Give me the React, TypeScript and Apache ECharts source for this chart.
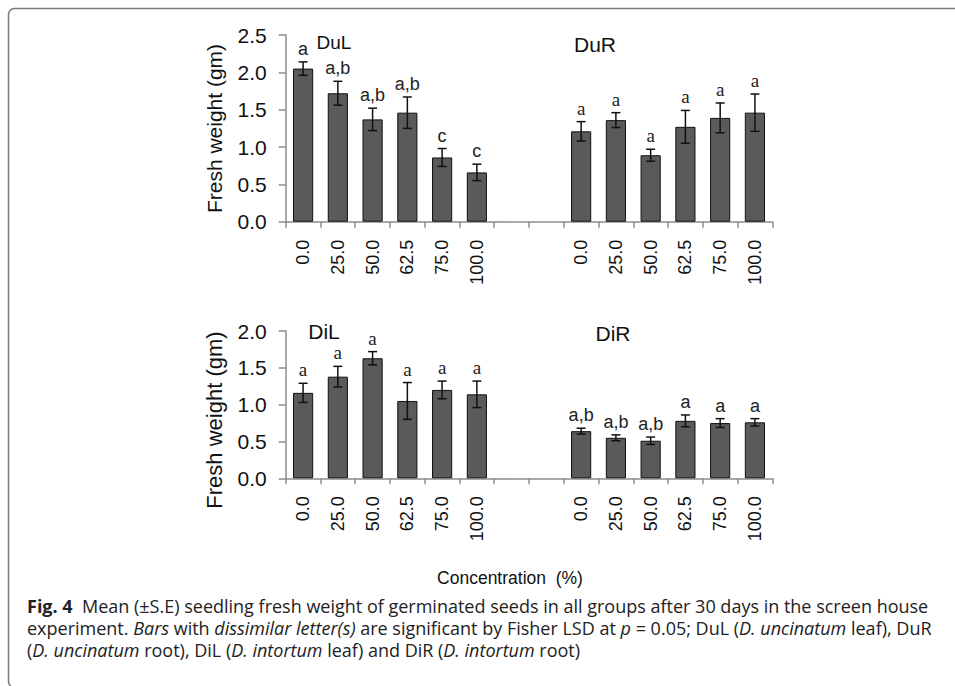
import React, { useEffect, useRef } from "react";
import * as echarts from "echarts";

// ---- data ----
const concLabels = ["0.0", "25.0", "50.0", "62.5", "75.0", "100.0"];

const dulMean = [2.05, 1.72, 1.37, 1.46, 0.86, 0.66];
const dulErr = [0.09, 0.16, 0.15, 0.21, 0.12, 0.11];
const dulLetters = ["a", "a,b", "a,b", "a,b", "c", "c"];

const durMean = [1.21, 1.36, 0.89, 1.27, 1.39, 1.46];
const durErr = [0.13, 0.1, 0.08, 0.22, 0.2, 0.25];
const durLetters = ["a", "a", "a", "a", "a", "a"];

const dilMean = [1.16, 1.38, 1.63, 1.05, 1.2, 1.14];
const dilErr = [0.13, 0.14, 0.09, 0.25, 0.12, 0.18];
const dilLetters = ["a", "a", "a", "a", "a", "a"];

const dirMean = [0.64, 0.55, 0.51, 0.78, 0.75, 0.76];
const dirErr = [0.04, 0.04, 0.05, 0.08, 0.06, 0.05];
const dirLetters = ["a,b", "a,b", "a,b", "a", "a", "a"];

const yTicksTop = { min: 0, max: 2.5, interval: 0.5 };
const yTicksBottom = { min: 0, max: 2.0, interval: 0.5 };

const panelTitles = ["DuL", "DuR", "DiL", "DiR"];
const yAxisTitle = "Fresh weight (gm)";
const xAxisTitle = "Concentration  (%)";

// two empty categories separate the leaf and root groups
const xLabels = [...concLabels, "", "", ...concLabels];
const xKeys = xLabels.map((_, i) => String(i));
const rightOffset = concLabels.length + 2;

const SANS = '"Liberation Sans", Arial, sans-serif';
const SERIF = '"Liberation Serif", "Times New Roman", serif';

function barData(left: number[], right: number[]) {
  return [...left, null, null, ...right];
}

function errPoints(leftM: number[], leftE: number[], rightM: number[], rightE: number[]) {
  const pts: number[][] = [];
  leftM.forEach((m, i) => pts.push([i, m, leftE[i]]));
  rightM.forEach((m, i) => pts.push([i + rightOffset, m, rightE[i]]));
  return pts;
}

function errSeries(
  gridIdx: number,
  pts: number[][],
  letters: string[],
  fonts: string[]
) {
  return {
    type: "custom",
    xAxisIndex: gridIdx,
    yAxisIndex: gridIdx,
    z: 5,
    encode: { x: 0, y: 1 },
    data: pts,
    renderItem: (params: any, api: any) => {
      const i = api.value(0);
      const m = api.value(1);
      const e = api.value(2);
      const top = api.coord([i, m + e]);
      const bot = api.coord([i, m - e]);
      const cx = top[0];
      const cap = 4.5;
      const ls = { stroke: "#111", lineWidth: 1.5 };
      return {
        type: "group",
        children: [
          { type: "line", shape: { x1: cx, y1: top[1], x2: cx, y2: bot[1] }, style: ls },
          { type: "line", shape: { x1: cx - cap, y1: top[1], x2: cx + cap, y2: top[1] }, style: ls },
          { type: "line", shape: { x1: cx - cap, y1: bot[1], x2: cx + cap, y2: bot[1] }, style: ls },
          {
            type: "text",
            x: cx,
            y: top[1] - 4,
            style: {
              text: letters[params.dataIndex],
              font: fonts[params.dataIndex],
              fill: "#222",
              align: "center",
              verticalAlign: "bottom",
            },
          },
        ],
      };
    },
  };
}

const axisColor = "#8c8c8c";

function xAxisFor(gridIndex: number) {
  return {
    type: "category",
    gridIndex,
    data: xKeys,
    boundaryGap: true,
    axisLine: { lineStyle: { color: axisColor, width: 1.5 } },
    axisTick: { show: true, interval: 0, length: 6, lineStyle: { color: axisColor, width: 1.5 } },
    axisLabel: {
      interval: 0,
      rotate: 90,
      margin: 18,
      fontSize: 18,
      fontFamily: SANS,
      color: "#111",
      formatter: (_v: string, i: number) => xLabels[i],
    },
    splitLine: { show: false },
  };
}

function yAxisFor(gridIndex: number, t: { min: number; max: number; interval: number }) {
  return {
    type: "value",
    gridIndex,
    min: t.min,
    max: t.max,
    interval: t.interval,
    axisLine: { show: true, lineStyle: { color: axisColor, width: 1.5 } },
    axisTick: { show: true, length: 7, lineStyle: { color: axisColor, width: 1.5 } },
    axisLabel: {
      margin: 19,
      fontSize: 21,
      fontFamily: SANS,
      color: "#111",
      formatter: (v: number) => v.toFixed(1),
    },
    splitLine: { show: false },
  };
}

const barStyle = { color: "#5a5a5a", borderColor: "#111", borderWidth: 1 };

const sansLetter = "18px " + SANS;
const serifLetter = "19px " + SERIF;

export default function App() {
  const ref = useRef<HTMLDivElement>(null);

  useEffect(() => {
    if (!ref.current) return;
    const chart = echarts.init(ref.current, null, { renderer: "svg" });

    const topLetters = [...dulLetters, ...durLetters];
    const topFonts = [...dulLetters.map(() => sansLetter), ...durLetters.map(() => serifLetter)];
    const botLetters = [...dilLetters, ...dirLetters];
    const botFonts = [...dilLetters.map(() => serifLetter), ...dirLetters.map(() => sansLetter)];

    const captionFont = '"Open Sans", "Noto Sans", sans-serif';
    const capSize = 18;
    const capLH = 19;
    const rich = {
      b: { fontWeight: "bold", fontSize: capSize, fontFamily: captionFont, fill: "#222", lineHeight: capLH },
      i: { fontStyle: "italic", fontSize: capSize, fontFamily: captionFont, fill: "#222", lineHeight: capLH },
      n: { fontSize: capSize, fontFamily: captionFont, fill: "#222", lineHeight: capLH },
    };
    const captionLines = [
      "{b|Fig. 4}{n|  Mean (±S.E) seedling fresh weight of germinated seeds in all groups after 30 days in the screen house}",
      "{n|experiment. }{i|Bars}{n| with }{i|dissimilar letter(s)}{n| are significant by Fisher LSD at }{i|p}{n| = 0.05; DuL (}{i|D. uncinatum}{n| leaf), DuR}",
      "{n|(}{i|D. uncinatum}{n| root), DiL (}{i|D. intortum}{n| leaf) and DiR (}{i|D. intortum}{n| root)}",
    ];
    const captionY = [606, 628, 650];

    const titlePos = [
      [334, 42],
      [595, 44],
      [324, 331],
      [613, 333],
    ];
    const titleSize = [19, 21, 21, 21];

    const option: any = {
      animation: false,
      backgroundColor: "#fff",
      grid: [
        { left: 285.7, top: 35, width: 486.6, height: 186.7 },
        { left: 285.7, top: 331, width: 486.6, height: 147.3 },
      ],
      xAxis: [xAxisFor(0), xAxisFor(1)],
      yAxis: [yAxisFor(0, yTicksTop), yAxisFor(1, yTicksBottom)],
      series: [
        {
          type: "bar",
          xAxisIndex: 0,
          yAxisIndex: 0,
          barWidth: "58%",
          data: barData(dulMean, durMean),
          itemStyle: barStyle,
        },
        {
          type: "bar",
          xAxisIndex: 1,
          yAxisIndex: 1,
          barWidth: "58%",
          data: barData(dilMean, dirMean),
          itemStyle: barStyle,
        },
        errSeries(0, errPoints(dulMean, dulErr, durMean, durErr), topLetters, topFonts),
        errSeries(1, errPoints(dilMean, dilErr, dirMean, dirErr), botLetters, botFonts),
      ],
      graphic: [
        {
          type: "rect",
          shape: { x: 8.5, y: 8.5, width: 1200, height: 679, r: 6 },
          style: { fill: "none", stroke: "#7a7a7a", lineWidth: 1.5 },
          silent: true,
        },
        ...panelTitles.map((t, k) => ({
          type: "text",
          x: titlePos[k][0],
          y: titlePos[k][1],
          style: {
            text: t,
            font: titleSize[k] + "px " + SANS,
            fill: "#111",
            align: "center",
            verticalAlign: "middle",
          },
        })),
        {
          type: "text",
          x: 214,
          y: 128.5,
          rotation: Math.PI / 2,
          style: {
            text: yAxisTitle,
            font: "21px " + SANS,
            fill: "#111",
            align: "center",
            verticalAlign: "middle",
          },
        },
        {
          type: "text",
          x: 214,
          y: 420,
          rotation: Math.PI / 2,
          style: {
            text: yAxisTitle,
            font: "22px " + SANS,
            fill: "#111",
            align: "center",
            verticalAlign: "middle",
          },
        },
        {
          type: "text",
          x: 510,
          y: 578,
          style: {
            text: xAxisTitle,
            font: "17.5px " + SANS,
            fill: "#111",
            align: "center",
            verticalAlign: "middle",
          },
        },
        ...captionLines.map((line, k) => ({
          type: "text",
          x: 27,
          y: captionY[k],
          style: {
            text: line,
            fontSize: capSize,
            fontFamily: captionFont,
            lineHeight: capLH,
            fill: "#222",
            align: "left",
            verticalAlign: "middle",
            rich,
          },
        })),
      ],
    };

    chart.setOption(option);
    return () => chart.dispose();
  }, []);

  return (
    <div
      ref={ref}
      style={{ position: "fixed", left: 0, top: 0, width: 955, height: 686, background: "#fff" }}
    />
  );
}
